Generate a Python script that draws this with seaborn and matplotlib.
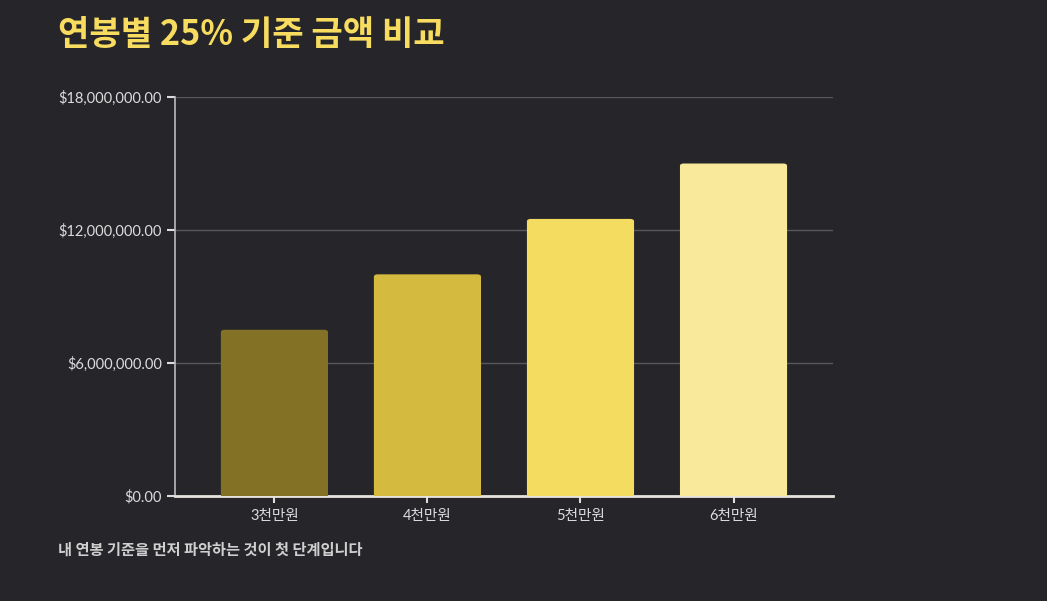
import matplotlib
matplotlib.use('Agg')
import matplotlib.pyplot as plt
import seaborn as sns
import pandas as pd
from matplotlib.patches import FancyBboxPatch
from matplotlib.ticker import FuncFormatter

# data
categories = ['3천만원', '4천만원', '5천만원', '6천만원']
amounts = [7500000, 10000000, 12500000, 15000000]
bar_colors = ['#837226', '#d5ba40', '#f4dc60', '#f9e99b']
y_ticks = [0, 6000000, 12000000, 18000000]

title = '연봉별 25% 기준 금액 비교'
footnote = '내 연봉 기준을 먼저 파악하는 것이 첫 단계입니다'

bg = '#26252a'
sns.set_style('dark')
plt.rcParams['font.family'] = ['Lato', 'Noto Sans CJK KR', 'DejaVu Sans']

df = pd.DataFrame({'category': categories, 'amount': amounts})

fig = plt.figure(figsize=(10.47, 6.01), dpi=100, facecolor=bg)
ax = fig.add_axes([0.1671, 0.1747, 0.6285, 0.6639])
ax.set_facecolor(bg)

sns.barplot(data=df, x='category', y='amount', hue='category', palette=bar_colors,
            width=0.7, legend=False, ax=ax, zorder=3, saturation=1)

# round the bar corners a little
for p in list(ax.patches):
    x, y = p.get_x(), p.get_y()
    w, h = p.get_width(), p.get_height()
    fc = p.get_facecolor()
    p.remove()
    rp = FancyBboxPatch((x, y), w, h, boxstyle='round,pad=0,rounding_size=0.025',
                        mutation_aspect=18000000 / 4.3 * 0.66 / 0.63,
                        facecolor=fc, edgecolor='none', zorder=3)
    ax.add_patch(rp)
    # square off the bottom
    ax.add_patch(plt.Rectangle((x, y), w, h * 0.5, facecolor=fc, edgecolor='none', zorder=3))

ax.set_xlim(-0.65, 3.65)
ax.set_ylim(0, 18000000)
ax.set_yticks(y_ticks)
ax.yaxis.set_major_formatter(FuncFormatter(lambda v, _: f'${v:,.2f}'))
ax.grid(axis='y', color='#58575b', linewidth=1, zorder=0)
ax.grid(axis='x', visible=False)

for s in ['top', 'right']:
    ax.spines[s].set_visible(False)
ax.spines['left'].set_color('#bdbcbc')
ax.spines['left'].set_linewidth(1.2)
ax.spines['bottom'].set_color('#e6e4dc')
ax.spines['bottom'].set_linewidth(2)

ax.tick_params(axis='both', colors='#dcdcdc', labelsize=10.5, length=6, width=1.5,
               left=True, bottom=True)
ax.tick_params(axis='x', length=5, pad=4)
ax.set_xlabel('')
ax.set_ylabel('')

fig.text(0.055, 0.943, title, color='#f7dc60', fontsize=24.6, fontweight='bold',
         ha='left', va='center', family=['Noto Sans CJK KR', 'DejaVu Sans'])
fig.text(0.055, 0.086, footnote, color='#cfcfcf', fontsize=11, fontweight='bold',
         ha='left', va='center', family=['Noto Sans CJK KR', 'DejaVu Sans'])

fig.savefig('out.png', dpi=100, facecolor=bg)
